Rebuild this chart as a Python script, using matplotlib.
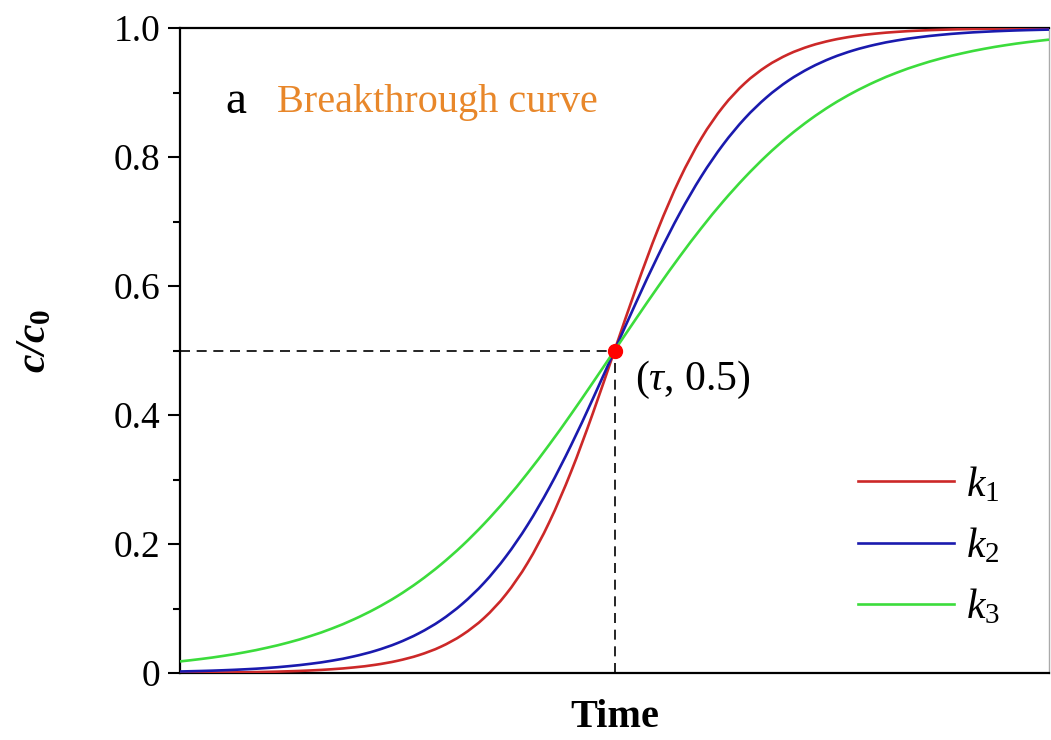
import numpy as np
import matplotlib
matplotlib.use("Agg")
import matplotlib.pyplot as plt
from matplotlib.path import Path
from matplotlib.patches import PathPatch
from matplotlib.lines import Line2D

plt.rcParams['font.family'] = ['Liberation Serif', 'DejaVu Serif']
plt.rcParams['mathtext.fontset'] = 'custom'
plt.rcParams['mathtext.rm'] = 'Liberation Serif'
plt.rcParams['mathtext.it'] = 'Liberation Serif:italic'
plt.rcParams['mathtext.bf'] = 'Liberation Serif:bold'
plt.rcParams['mathtext.bfit'] = 'Liberation Serif:italic:bold'

# time axis (tau sits in the middle)
time = np.arange(0, 10.01, 0.25)
tau = 5.0

# c/c0 for the three rate constants
c_k1 = [0.0004, 0.0005, 0.0008, 0.0012, 0.0018, 0.0027, 0.0040, 0.0059, 0.0087, 0.0128,
        0.0189, 0.0278, 0.0407, 0.0593, 0.0855, 0.1219, 0.1708, 0.2341, 0.3121, 0.4025,
        0.5,
        0.5975, 0.6879, 0.7659, 0.8292, 0.8781, 0.9145, 0.9407, 0.9593, 0.9722, 0.9811,
        0.9872, 0.9913, 0.9941, 0.9960, 0.9973, 0.9982, 0.9988, 0.9992, 0.9995, 0.9996]
c_k2 = [0.0024, 0.0032, 0.0043, 0.0058, 0.0078, 0.0106, 0.0143, 0.0192, 0.0258, 0.0346,
        0.0463, 0.0617, 0.0816, 0.1074, 0.1400, 0.1806, 0.2297, 0.2875, 0.3532, 0.4250,
        0.5,
        0.5750, 0.6468, 0.7125, 0.7703, 0.8194, 0.8600, 0.8926, 0.9184, 0.9383, 0.9537,
        0.9654, 0.9742, 0.9808, 0.9857, 0.9894, 0.9922, 0.9942, 0.9957, 0.9968, 0.9976]
c_k3 = [0.0180, 0.0219, 0.0266, 0.0323, 0.0392, 0.0474, 0.0573, 0.0691, 0.0832, 0.0998,
        0.1192, 0.1419, 0.1680, 0.1978, 0.2315, 0.2689, 0.3100, 0.3543, 0.4013, 0.4502,
        0.5,
        0.5498, 0.5987, 0.6457, 0.6900, 0.7311, 0.7685, 0.8022, 0.8320, 0.8581, 0.8808,
        0.9002, 0.9168, 0.9309, 0.9427, 0.9526, 0.9608, 0.9677, 0.9734, 0.9781, 0.9820]

labels = [r'$k_1$', r'$k_2$', r'$k_3$']
colors = ['#cc2828', '#1a1aae', '#3cdc3c']


def smooth_path(x, y):
    # catmull-rom through the points, drawn as cubic bezier segments
    pts = np.column_stack([x, y])
    ext = np.vstack([pts[0], pts, pts[-1]])
    verts = [pts[0]]
    codes = [Path.MOVETO]
    for i in range(len(pts) - 1):
        p0, p1, p2, p3 = ext[i], ext[i + 1], ext[i + 2], ext[i + 3]
        verts += [p1 + (p2 - p0) / 6, p2 - (p3 - p1) / 6, p2]
        codes += [Path.CURVE4] * 3
    return Path(verts, codes)


fig = plt.figure(figsize=(10.51, 7.40), dpi=100)
ax = fig.add_axes([0.1713, 0.0905, 0.8268, 0.8716])

handles = []
for y, lab, col in zip([c_k1, c_k2, c_k3], labels, colors):
    ax.add_patch(PathPatch(smooth_path(time, np.array(y)), facecolor='none',
                           edgecolor=col, lw=1.9, zorder=3))
    handles.append(Line2D([], [], color=col, lw=1.9, label=lab))

# guide lines to the half-breakthrough point
ax.plot([0, tau], [0.5, 0.5], color='black', lw=1.2, ls=(0, (6, 4)))
ax.plot([tau, tau], [0, 0.5], color='black', lw=1.2, ls=(0, (6, 4)))
ax.plot([tau], [0.5], 'o', color='red', ms=10, zorder=5)
ax.text(tau + 0.24, 0.455, r'$(\tau$, 0.5)', fontsize=30, va='center', ha='left')

ax.text(0.52, 0.885, 'a', fontsize=34, color='black', va='center')
ax.text(1.12, 0.885, 'Breakthrough curve', fontsize=29, color='#e8872a', va='center')

ax.set_xlim(0, 10)
ax.set_ylim(0, 1.0)
ax.set_xticks([])
ax.set_yticks([0, 0.2, 0.4, 0.6, 0.8, 1.0])
ax.set_yticklabels(['0', '0.2', '0.4', '0.6', '0.8', '1.0'])
ax.set_yticks([0.1, 0.3, 0.5, 0.7, 0.9], minor=True)
ax.tick_params(axis='y', which='major', length=9, width=1.5, labelsize=27, pad=5)
ax.tick_params(axis='y', which='minor', length=5, width=1.5)

for side in ['left', 'bottom', 'top']:
    ax.spines[side].set_linewidth(1.6)
ax.spines['right'].set_color('#aaaaaa')
ax.spines['right'].set_linewidth(1.0)

ax.set_xlabel('Time', fontsize=29, fontweight='bold', labelpad=19)
ax.set_ylabel(r'$\mathbfit{c/c}_{\mathbf{0}}$', fontsize=30)
ax.yaxis.set_label_coords(-0.145, 0.515)

ax.legend(handles=handles, loc='upper left', bbox_to_anchor=(0.78, 0.322), frameon=False,
          fontsize=30, handlelength=2.3, handletextpad=0.3, labelspacing=0.52, borderpad=0,
          borderaxespad=0)

fig.savefig('out.png', dpi=100)
